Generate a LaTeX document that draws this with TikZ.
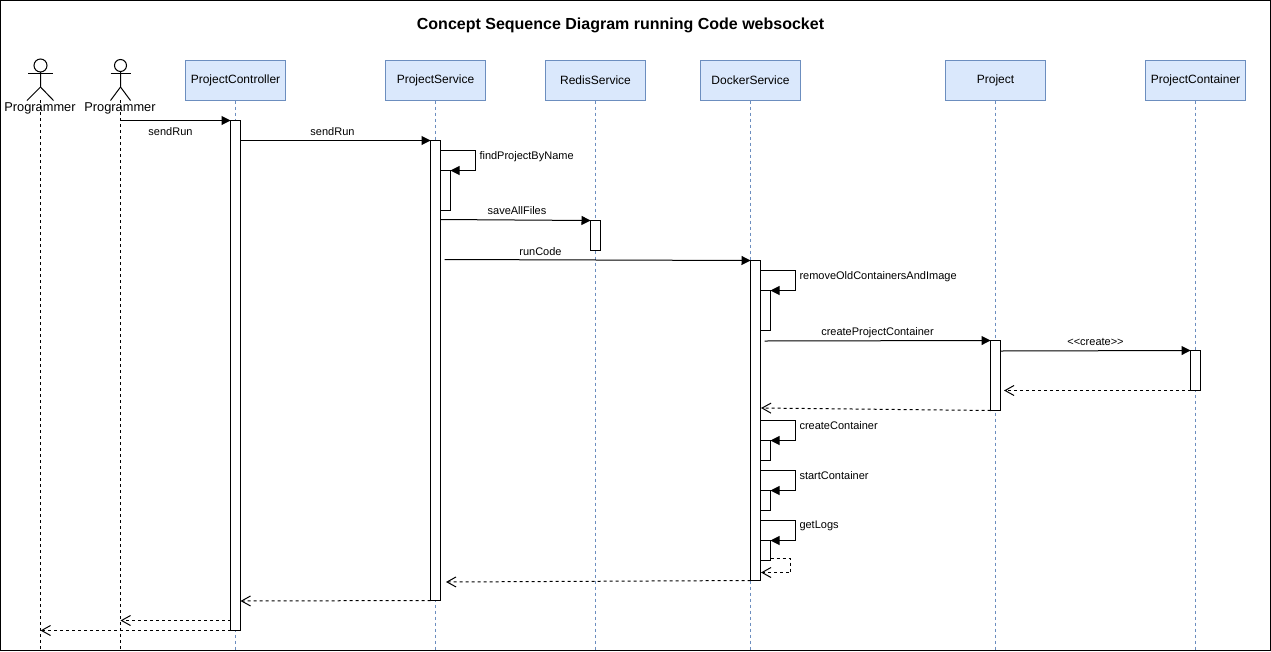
\documentclass[tikz,border=0pt]{standalone}
\usepackage{fontspec}
\setmainfont{Liberation Sans}
\usetikzlibrary{positioning,arrows.meta}
\definecolor{boxfill}{HTML}{DAE8FC}
\definecolor{boxline}{HTML}{6C8EBF}
\tikzset{
	classbox/.style={draw=boxline,fill=boxfill,minimum width=100pt,minimum height=40pt,inner sep=0pt,outer sep=0pt,font=\fontsize{12}{14}\selectfont},
	actlabel/.style={inner sep=0pt,font=\fontsize{12.8}{15}\selectfont},
	msglabel/.style={inner sep=0pt,font=\fontsize{11}{13}\selectfont},
	actbar/.style={draw=black,fill=white,minimum width=10pt,inner sep=0pt,outer sep=0pt},
	lifeblue/.style={draw=boxline,dash pattern=on 3pt off 3pt},
	lifeblack/.style={draw=black,dash pattern=on 3pt off 3pt},
	msg/.style={draw=black,-{Triangle[length=9pt,width=9pt]}},
	ret/.style={draw=black,dash pattern=on 3pt off 3pt,-{Straight Barb[length=9pt,width=10pt,sharp]}}
}
\begin{document}
\begin{tikzpicture}[x=1pt,y=-1pt,line width=1pt]
		\useasboundingbox (0,0) rectangle (1271,651);
		\draw [black] (0.5,0.5) rectangle (1270.5,650.5);
		\node [inner sep=0pt,font=\bfseries\fontsize{16}{19}\selectfont] (title) at (620.5,25) {Concept Sequence Diagram running Code websocket};
		% class boxes
		\node [classbox] (ctrl) at (235.5,80.5) {ProjectController};
		\node [classbox] (serv) at (435.5,80.5) {ProjectService};
		\node [classbox] (redis) at (595.5,80.5) {RedisService};
		\node [classbox] (dock) at (750.5,80.5) {DockerService};
		\node [classbox] (proj) at (995.5,80.5) {Project};
		\node [classbox] (cont) at (1195.5,80.5) {ProjectContainer};
		% actors
		\node [draw=black,circle,minimum size=13pt,inner sep=0pt,outer sep=0pt] (headA) at (40.5,65.5) {};
		\node [draw=black,circle,minimum size=12pt,inner sep=0pt,outer sep=0pt] (headB) at (120.5,65.5) {};
		\coordinate (hipA) at (40.5,87);
		\coordinate (hipB) at (120.5,87);
		\draw (headA.south) -- (hipA) -- (27,100.5);
		\draw (hipA) -- (53.5,100.5);
		\draw (28,73.5) -- (53,73.5);
		\draw (headB.south) -- (hipB) -- (110.5,100.5);
		\draw (hipB) -- (130.5,100.5);
		\draw (110.5,73.5) -- (130.5,73.5);
		% lifelines
		\coordinate (startA) at (40.5,100);
		\coordinate (startB) at (120.5,100);
		\draw [lifeblack] (startA) -- (startA |- 0,650);
		\draw [lifeblack] (startB) -- (startB |- 0,650);
		\draw [lifeblue] (ctrl.south) -- (ctrl.south |- 0,650);
		\draw [lifeblue] (serv.south) -- (serv.south |- 0,650);
		\draw [lifeblue] (redis.south) -- (redis.south |- 0,650);
		\draw [lifeblue] (dock.south) -- (dock.south |- 0,650);
		\draw [lifeblue] (proj.south) -- (proj.south |- 0,650);
		\draw [lifeblue] (cont.south) -- (cont.south |- 0,650);
		\node [actlabel,fill=none] (progA) at (40,108.5) {Programmer};
		\node [actlabel,fill=none] (progB) at (120,108.5) {Programmer};
		% activation bars
		\node [actbar,minimum height=510pt] (barCtrl) at (235.5,375.5) {};
		\node [actbar,minimum height=460pt] (barServ) at (435.5,370.5) {};
		\node [actbar,minimum height=40pt] (barFind) at (445.5,190.5) {};
		\node [actbar,minimum height=30pt] (barRedis) at (595.5,235.5) {};
		\node [actbar,minimum height=320pt] (barDock) at (755.5,420.5) {};
		\node [actbar,minimum height=40pt] (barOld) at (765.5,310.5) {};
		\node [actbar,minimum height=70pt] (barProj) at (995.5,375.5) {};
		\node [actbar,minimum height=40pt] (barCont) at (1195.5,370.5) {};
		\node [actbar,minimum height=20pt] (barCreate) at (765.5,450.5) {};
		\node [actbar,minimum height=20pt] (barStart) at (765.5,500.5) {};
		\node [actbar,minimum height=20pt] (barLogs) at (765.5,550.5) {};
		% messages
		\coordinate (gapServ) at (444.5,259.5);
		\coordinate (gapDock) at (764.5,341);
		\draw [msg] (startB |- barCtrl.north) -- (barCtrl.north west);
		\draw [msg] (barCtrl.east |- 0,140.5) -- (barServ.north west);
		\draw [msg] (barServ.east |- 0,219.5) -- (barRedis.north west);
		\draw [msg] (gapServ) -- (barDock.north west);
		\draw [msg] (gapDock) -- (barProj.north west);
		\draw [msg] (barProj.east |- 0,351) -- (barCont.north west);
		% self calls
		\draw [msg] (barServ.east |- 0,150.5) -- (475.5,150.5) -- (475.5,170.5) -- (barFind.north east);
		\draw [msg] (barDock.east |- 0,270.5) -- (795.5,270.5) -- (795.5,290.5) -- (barOld.north east);
		\draw [msg] (barDock.east |- 0,420.5) -- (795.5,420.5) -- (795.5,440.5) -- (barCreate.north east);
		\draw [msg] (barDock.east |- 0,470.5) -- (795.5,470.5) -- (795.5,490.5) -- (barStart.north east);
		\draw [msg] (barDock.east |- 0,520.5) -- (795.5,520.5) -- (795.5,540.5) -- (barLogs.north east);
		% returns
		\coordinate (backProj) at (1004,390.5);
		\coordinate (backDock) at (761,408);
		\coordinate (backLogs) at (761,572.5);
		\coordinate (backServ) at (446,582);
		\draw [ret] (barLogs.east |- 0,558.5) -- (790.5,558.5) -- (790.5,572.5) -- (backLogs);
		\draw [ret] (barCont.south west) -- (backProj);
		\draw [ret] (barProj.south west) -- (backDock);
		\draw [ret] (barDock.south west) -- (backServ);
		\draw [ret] (barServ.south west) -- (barCtrl.east |- 0,601);
		\draw [ret] (barCtrl.west |- 0,620.5) -- (startB |- 0,620.5);
		\draw [ret] (barCtrl.south west) -- (startA |- barCtrl.south);
		% labels
		\node [msglabel] (lblRunA) at (170.5,132) {sendRun};
		\node [msglabel] (lblRunB) at (332.5,132) {sendRun};
		\node [msglabel,anchor=west] (lblFind) at (479,156.5) {findProjectByName};
		\node [msglabel] (lblSave) at (517,211) {saveAllFiles};
		\node [msglabel] (lblCode) at (540.5,252) {runCode};
		\node [msglabel,anchor=west] (lblOld) at (799,276.5) {removeOldContainersAndImage};
		\node [msglabel] (lblNew) at (877.5,332.5) {createProjectContainer};
		\node [msglabel] (lblMake) at (1095.5,342) {<{}<create>{}>};
		\node [msglabel,anchor=west] (lblCreate) at (799,426) {createContainer};
		\node [msglabel,anchor=west] (lblStart) at (799,476) {startContainer};
		\node [msglabel,anchor=west] (lblLogs) at (799,526) {getLogs};
\end{tikzpicture}
\end{document}
